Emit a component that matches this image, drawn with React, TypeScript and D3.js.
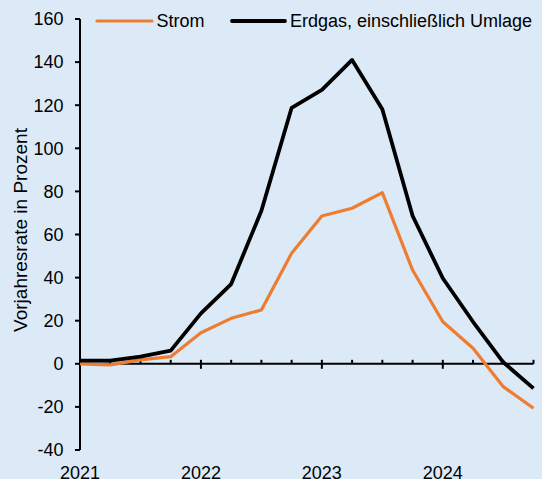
import React from 'react';
import * as d3 from 'd3';

// quarterly values, 2021 Q1 .. 2024 Q4
const quarters = d3.range(16);
const strom = [0, -0.5, 1.8, 3.3, 14.4, 21.1, 25, 51.3, 68.6, 72.2, 79.4, 43.5, 19.5, 7.2, -10.6, -20.6];
const erdgas = [1.5, 1.5, 3.3, 6.1, 23.4, 37, 71, 118.8, 127.1, 141, 118.1, 68.7, 39.7, 19.5, 0.7, -11.4];
const yTicks = [-40, -20, 0, 20, 40, 60, 80, 100, 120, 140, 160];
const yearLabels = ['2021', '2022', '2023', '2024'];

const W = 542;
const H = 479;
const BG = '#dce9f7';
const ORANGE = '#ed7d31';
const FONT = 'Liberation Sans, Arial, sans-serif';

const App: React.FC = () => {
  const x = d3.scaleLinear().domain([0, 15]).range([80, 533.5]);
  const y = d3.scaleLinear().domain([-40, 160]).range([450, 19]);

  const line = d3.line<number>()
    .x((_, i) => x(quarters[i]))
    .y(d => y(d));

  return (
    <svg width={W} height={H} style={{ position: 'absolute', left: 0, top: 0, background: BG }}
      fontFamily={FONT}>
      <rect width={W} height={H} fill={BG} />

      {/* y axis */}
      <line x1={x(0)} x2={x(0)} y1={y(160)} y2={y(-40)} stroke="#000" strokeWidth={2} />
      {yTicks.map(t => (
        <g key={t}>
          <line x1={x(0) - 5} x2={x(0)} y1={y(t)} y2={y(t)} stroke="#000" strokeWidth={2} />
          <text x={63.5} y={y(t)} dy="0.35em" textAnchor="end" fontSize={18} fill="#000">{t}</text>
        </g>
      ))}
      <text transform={`translate(20,${230}) rotate(-90)`} dy="0.35em" textAnchor="middle"
        fontSize={19} fill="#000">Vorjahresrate in Prozent</text>

      {/* x axis at zero */}
      <line x1={x(0)} x2={x(15)} y1={y(0)} y2={y(0)} stroke="#000" strokeWidth={2} />
      {quarters.slice(1).map(q => (
        <line key={q} x1={x(q)} x2={x(q)} y1={y(0) - 4} y2={q % 4 === 0 ? y(0) + 5 : y(0)}
          stroke="#000" strokeWidth={2} />
      ))}
      {yearLabels.map((lab, i) => (
        <text key={lab} x={x(i * 4)} y={479} textAnchor="middle" fontSize={18} fill="#000">{lab}</text>
      ))}

      {/* series */}
      <path d={line(strom) || ''} fill="none" stroke={ORANGE} strokeWidth={3.2} strokeLinejoin="round" />
      <path d={line(erdgas) || ''} fill="none" stroke="#000" strokeWidth={3.8} strokeLinejoin="round" />

      {/* legend */}
      <line x1={97} x2={152} y1={21} y2={21} stroke={ORANGE} strokeWidth={3.2} strokeLinecap="round" />
      <text x={156.5} y={21} dy="0.35em" fontSize={18} fill="#000">Strom</text>
      <line x1={232} x2={285} y1={21} y2={21} stroke="#000" strokeWidth={3.8} strokeLinecap="round" />
      <text x={290} y={21} dy="0.35em" fontSize={18} fill="#000">Erdgas, einschließlich Umlage</text>
    </svg>
  );
};

export default App;
